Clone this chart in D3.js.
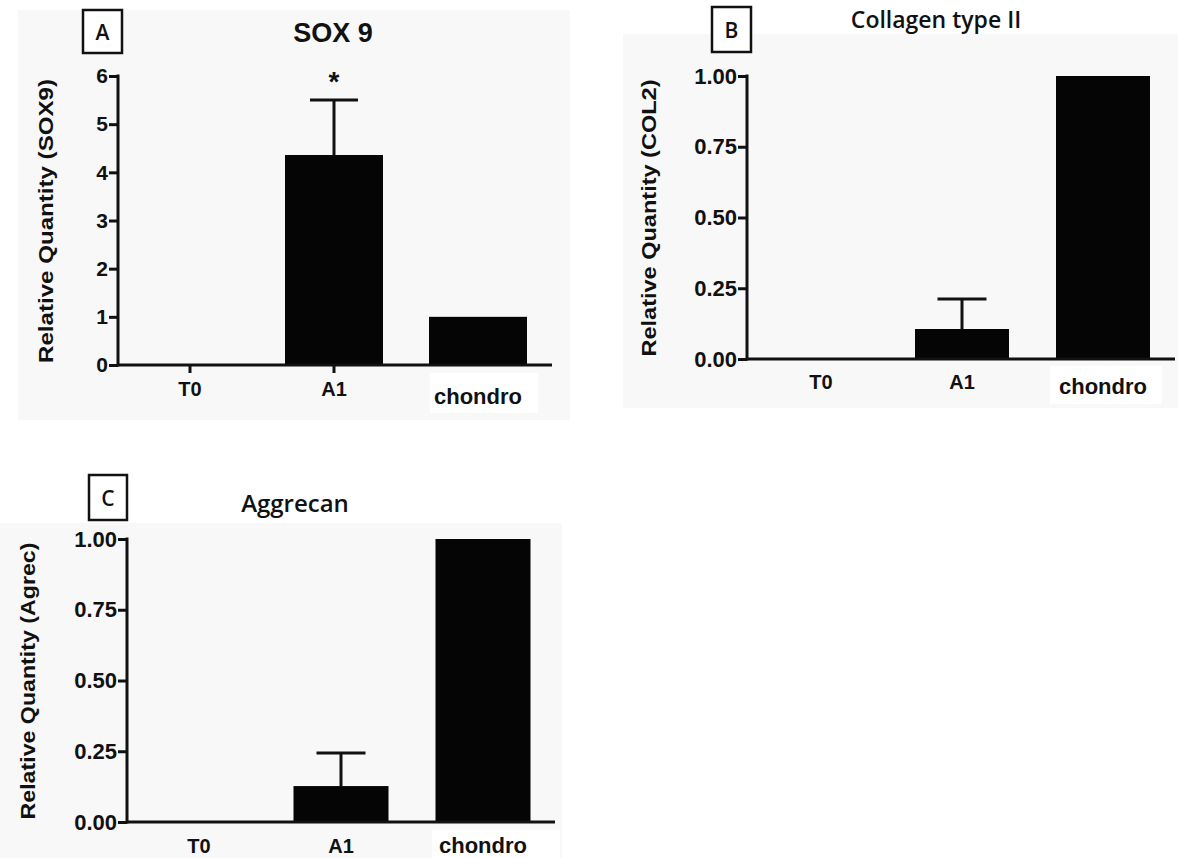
<!DOCTYPE html>
<html>
<head>
<meta charset="utf-8">
<title>SOX9 / COL2 / Aggrecan</title>
<style>
    body { margin: 0; background: #fff; }
    svg text { fill: #111; }
    .tick-label { font-family: "Liberation Sans", Arial, sans-serif; font-weight: bold; }
    .axis-title { font-family: "Liberation Sans", Arial, sans-serif; font-weight: bold; }
</style>
<script src="https://d3js.org/d3.v7.min.js"></script>
</head>
<body>
<svg width="1178" height="858"></svg>
<script>
    // data
    var categories = ["T0", "A1", "chondro"];

    var sox9Means = [0, 4.36, 1.0];
    var sox9Err = [0, 1.14, 0];

    var col2Means = [0, 0.106, 1.0];
    var col2Err = [0, 0.106, 0];

    var agrecMeans = [0, 0.127, 1.0];
    var agrecErr = [0, 0.117, 0];

    var sox9Ticks = [0, 1, 2, 3, 4, 5, 6];
    var fracTicks = [0, 0.25, 0.5, 0.75, 1.0];

    var svg = d3.select("svg");

    // one panel layout per chart
    var panels = [
        {
            means: sox9Means, err: sox9Err, ticks: sox9Ticks, yMax: 6, fmt: d3.format("d"),
            left: 118, right: 552, top: 76, bottom: 365,
            first: 190, last: 478, barW: 98, capW: 48,
            xTicks: true, tickFont: 21,
            labelY: 396, chondroY: 404,
            bg: [18, 10, 552, 410], whiteBox: [430, 373, 108, 40],
            title: "SOX 9", titleX: 333, titleY: 42, titleFont: "bold 27px 'Liberation Sans', Arial, sans-serif",
            box: [83, 10, 39, 43], letter: "A",
            yTitle: "Relative Quantity (SOX9)", yTitleX: 45, yTitleY: 221, yTitleLen: 284,
            star: true
        },
        {
            means: col2Means, err: col2Err, ticks: fracTicks, yMax: 1, fmt: d3.format(".2f"),
            left: 747, right: 1175, top: 76, bottom: 359,
            first: 821, last: 1103, barW: 94, capW: 49,
            xTicks: false, tickFont: 22,
            labelY: 389, chondroY: 394,
            bg: [623, 34, 555, 374], whiteBox: [1050, 366, 112, 38],
            title: "Collagen type II", titleX: 936, titleY: 28, titleFont: "600 23px 'Open Sans', Lato, sans-serif",
            box: [712, 7, 39, 45], letter: "B",
            yTitle: "Relative Quantity (COL2)", yTitleX: 648, yTitleY: 218, yTitleLen: 277,
            star: false
        },
        {
            means: agrecMeans, err: agrecErr, ticks: fracTicks, yMax: 1, fmt: d3.format(".2f"),
            left: 127, right: 555, top: 539, bottom: 822,
            first: 199, last: 483, barW: 95, capW: 49,
            xTicks: false, tickFont: 22,
            labelY: 853, chondroY: 853,
            bg: [0, 523, 562, 335], whiteBox: [432, 830, 128, 28],
            title: "Aggrecan", titleX: 295, titleY: 512, titleFont: "600 24px 'Open Sans', Lato, sans-serif",
            box: [89, 475, 38, 45], letter: "C",
            yTitle: "Relative Quantity (Agrec)", yTitleX: 27, yTitleY: 681, yTitleLen: 277,
            star: false
        }
    ];

    panels.forEach(function (p) {
        var g = svg.append("g");

        // light grey plot background and white label patch
        g.append("rect")
            .attr("x", p.bg[0]).attr("y", p.bg[1])
            .attr("width", p.bg[2]).attr("height", p.bg[3])
            .attr("fill", "#f8f8f8");
        g.append("rect")
            .attr("x", p.whiteBox[0]).attr("y", p.whiteBox[1])
            .attr("width", p.whiteBox[2]).attr("height", p.whiteBox[3])
            .attr("fill", "#fff");

        var x = d3.scalePoint()
            .domain(categories)
            .range([p.first, p.last]);

        var y = d3.scaleLinear()
            .domain([0, p.yMax])
            .range([p.bottom, p.top]);

        var data = categories.map(function (c, i) {
            return {cat: c, mean: p.means[i], err: p.err[i]};
        });

        // bars
        g.selectAll(".bar")
            .data(data)
            .enter().append("rect")
            .attr("class", "bar")
            .attr("x", function (d) { return x(d.cat) - p.barW / 2; })
            .attr("y", function (d) { return y(d.mean); })
            .attr("width", p.barW)
            .attr("height", function (d) { return p.bottom - y(d.mean); })
            .attr("fill", "#050505");

        // error bars (upper only)
        var eb = g.selectAll(".err")
            .data(data.filter(function (d) { return d.err > 0; }))
            .enter().append("g")
            .attr("class", "err")
            .attr("stroke", "#111")
            .attr("stroke-width", 3);
        eb.append("line")
            .attr("x1", function (d) { return x(d.cat); })
            .attr("x2", function (d) { return x(d.cat); })
            .attr("y1", function (d) { return y(d.mean); })
            .attr("y2", function (d) { return y(d.mean + d.err); });
        eb.append("line")
            .attr("x1", function (d) { return x(d.cat) - p.capW / 2; })
            .attr("x2", function (d) { return x(d.cat) + p.capW / 2; })
            .attr("y1", function (d) { return y(d.mean + d.err); })
            .attr("y2", function (d) { return y(d.mean + d.err); });

        // y axis
        var yAxis = g.append("g")
            .attr("transform", "translate(" + p.left + ",0)")
            .call(d3.axisLeft(y).tickValues(p.ticks).tickFormat(p.fmt).tickSize(9).tickPadding(1));
        yAxis.select(".domain").remove();
        yAxis.selectAll(".tick line").attr("stroke", "#111").attr("stroke-width", 3);
        yAxis.selectAll(".tick text")
            .attr("class", "tick-label")
            .attr("font-size", p.tickFont)
            .attr("fill", "#111");
        g.append("line")
            .attr("x1", p.left).attr("x2", p.left)
            .attr("y1", p.top - 1.5).attr("y2", p.bottom + 1.5)
            .attr("stroke", "#111").attr("stroke-width", 3);

        // x axis line
        g.append("line")
            .attr("x1", p.left).attr("x2", p.right)
            .attr("y1", p.bottom).attr("y2", p.bottom)
            .attr("stroke", "#111").attr("stroke-width", 3);

        if (p.xTicks) {
            g.selectAll(".xtick")
                .data(categories.slice(0, 2))
                .enter().append("line")
                .attr("class", "xtick")
                .attr("x1", function (d) { return x(d); })
                .attr("x2", function (d) { return x(d); })
                .attr("y1", p.bottom)
                .attr("y2", p.bottom + 8)
                .attr("stroke", "#111").attr("stroke-width", 3);
        }

        // category labels
        g.selectAll(".xlabel")
            .data(categories)
            .enter().append("text")
            .attr("class", "tick-label")
            .attr("x", function (d) { return x(d); })
            .attr("y", function (d) { return d === "chondro" ? p.chondroY : p.labelY; })
            .attr("text-anchor", "middle")
            .attr("font-size", function (d) { return d === "chondro" ? 22 : 20; })
            .text(function (d) { return d; });

        // y axis title
        g.append("text")
            .attr("class", "axis-title")
            .attr("transform", "translate(" + p.yTitleX + "," + p.yTitleY + ") rotate(-90)")
            .attr("text-anchor", "middle")
            .attr("dominant-baseline", "central")
            .attr("font-size", 21)
            .attr("textLength", p.yTitleLen)
            .attr("lengthAdjust", "spacingAndGlyphs")
            .text(p.yTitle);

        // panel title
        g.append("text")
            .attr("x", p.titleX)
            .attr("y", p.titleY)
            .attr("text-anchor", "middle")
            .style("font", p.titleFont)
            .text(p.title);

        // panel letter box
        g.append("rect")
            .attr("x", p.box[0]).attr("y", p.box[1])
            .attr("width", p.box[2]).attr("height", p.box[3])
            .attr("fill", "#fff")
            .attr("stroke", "#111")
            .attr("stroke-width", 2.5);
        g.append("text")
            .attr("x", p.box[0] + p.box[2] / 2)
            .attr("y", p.box[1] + p.box[3] / 2)
            .attr("text-anchor", "middle")
            .attr("dominant-baseline", "central")
            .style("font", "600 21px 'Open Sans', Lato, sans-serif")
            .text(p.letter);

        if (p.star) {
            g.append("text")
                .attr("x", x("A1"))
                .attr("y", 91)
                .attr("text-anchor", "middle")
                .style("font", "bold 28px 'Liberation Sans', Arial, sans-serif")
                .text("*");
        }
    });
</script>
</body>
</html>
